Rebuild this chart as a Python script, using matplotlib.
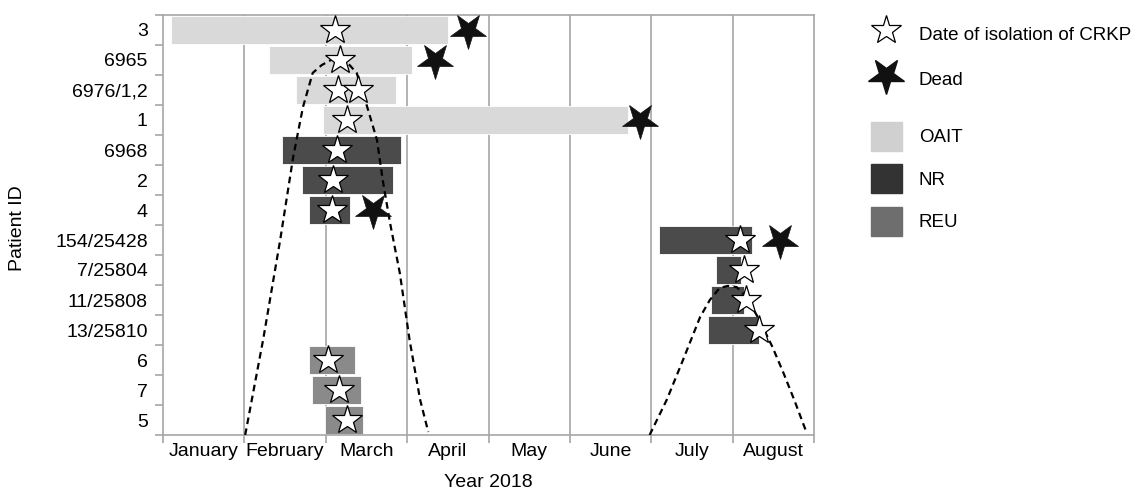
import matplotlib
matplotlib.use('Agg')
import matplotlib.pyplot as plt
from matplotlib.lines import Line2D
from matplotlib.patches import Patch
from matplotlib.markers import MarkerStyle
from matplotlib.transforms import Affine2D

# months counted from 1 January 2018
patients = ['3', '6965', '6976/1,2', '1', '6968', '2', '4', '154/25428',
            '7/25804', '11/25808', '13/25810', '6', '7', '5']
ward = ['OAIT', 'OAIT', 'OAIT', 'OAIT', 'NR', 'NR', 'NR', 'NR',
        'NR', 'NR', 'NR', 'REU', 'REU', 'REU']
stay_start = [0.10, 1.30, 1.63, 1.97, 1.46, 1.71, 1.79, 6.09,
              6.80, 6.73, 6.70, 1.79, 1.83, 1.99]
stay_end = [3.50, 3.06, 2.86, 5.71, 2.92, 2.83, 2.30, 7.24,
            7.10, 7.14, 7.33, 2.36, 2.43, 2.46]
isolation = [[2.11], [2.17], [2.15, 2.40], [2.26], [2.14], [2.09], [2.08], [7.09],
             [7.14], [7.17], [7.33], [2.03], [2.16], [2.26]]
death = [3.75, 3.34, None, 5.86, None, None, 2.58, 7.58,
         None, None, None, None, None, None]

months = ['January', 'February', 'March', 'April', 'May', 'June', 'July', 'August']

# epidemic curves (x in months, y in patient rows from the top)
wave1_x = [1.01, 1.23, 1.44, 1.60, 1.72, 1.84, 1.95, 2.11, 2.27, 2.38, 2.51,
           2.63, 2.70, 2.79, 2.91, 3.03, 3.16, 3.26]
wave1_y = [14.0, 10.83, 7.5, 4.73, 3.07, 1.93, 1.67, 1.43, 1.6, 1.93, 3.07,
           4.17, 5.5, 6.93, 8.6, 10.83, 12.83, 13.9]
wave2_x = [5.98, 6.19, 6.39, 6.60, 6.72, 6.84, 6.94, 7.05, 7.17, 7.33, 7.49,
           7.62, 7.76, 7.91]
wave2_y = [14.0, 12.83, 11.5, 10.07, 9.5, 9.1, 9.03, 9.07, 9.4, 10.17, 11.07,
           11.9, 12.85, 13.93]

bar_colors = {'OAIT': '#d9d9d9', 'NR': '#4b4b4b', 'REU': '#8a8a8a'}
key_colors = {'OAIT': '#d0d0d0', 'NR': '#333333', 'REU': '#6e6e6e'}
grid_gray = '#a6a6a6'

plt.rcParams['font.family'] = ['Liberation Sans', 'DejaVu Sans']
plt.rcParams['font.size'] = 14

fig = plt.figure(figsize=(11.46, 4.94), dpi=100)
ax = fig.add_axes([163 / 1146, 59 / 494, 651 / 1146, 420 / 494])

rows = [i + 0.5 for i in range(len(patients))]

for m in range(1, len(months)):
    ax.axvline(m, color=grid_gray, lw=1.2, zorder=0)

ax.barh(rows, [e - s for s, e in zip(stay_start, stay_end)], left=stay_start,
        height=0.94, color=[bar_colors[w] for w in ward],
        edgecolor='white', linewidth=0.6, zorder=2)

ax.plot(wave1_x, wave1_y, color='black', lw=1.6, ls=(0, (3, 2)), zorder=3)
ax.plot(wave2_x, wave2_y, color='black', lw=1.6, ls=(0, (3, 2)), zorder=3)

iso_x, iso_y = [], []
for r, dates in zip(rows, isolation):
    for d in dates:
        iso_x.append(d)
        iso_y.append(r)
ax.plot(iso_x, iso_y, ls='none', marker='*', ms=22, mfc='white', mec='black',
        mew=0.9, zorder=4)

dead_marker = MarkerStyle('*', transform=Affine2D().rotate_deg(180))
dead_x = [d for d in death if d is not None]
dead_y = [r for r, d in zip(rows, death) if d is not None]
ax.plot(dead_x, dead_y, ls='none', marker=dead_marker, ms=27, mfc='#111111',
        mec='#111111', mew=0.5, zorder=5, clip_on=False)

ax.set_xlim(0, len(months))
ax.set_ylim(len(patients), 0)

ax.set_xticks(range(len(months) + 1))
ax.set_xticklabels([])
ax.set_xticks([m + 0.5 for m in range(len(months))], minor=True)
ax.set_xticklabels(months, minor=True)
ax.set_yticks(range(len(patients) + 1))
ax.set_yticklabels([])
ax.set_yticks(rows, minor=True)
ax.set_yticklabels(patients, minor=True)

ax.tick_params(which='major', length=6, width=1.2, color=grid_gray)
ax.tick_params(which='minor', length=0)
ax.tick_params(axis='x', which='minor', pad=6)
ax.tick_params(axis='y', which='minor', pad=11)

for sp in ax.spines.values():
    sp.set_color(grid_gray)
    sp.set_linewidth(1.2)

fig.text(18 / 1146, 1 - 228 / 494, 'Patient ID', rotation=90,
         ha='center', va='center')
fig.text(488 / 1146, 1 - 482 / 494, 'Year 2018', ha='center', va='center')

# key: marker symbols on top, ward colours below
legend_kw = dict(loc='upper left', fontsize=13.5, frameon=False, borderpad=0,
                 borderaxespad=0, handlelength=1.65, handleheight=2.0,
                 handletextpad=0.9)
marker_handles = [
    Line2D([], [], ls='none', marker='*', ms=22, mfc='white', mec='black', mew=0.9),
    Line2D([], [], ls='none', marker=dead_marker, ms=27, mfc='#111111', mec='#111111'),
]
fig.legend(marker_handles, ['Date of isolation of CRKP', 'Dead'],
           bbox_to_anchor=(871 / 1146, 1 - 20 / 494), labelspacing=0.82,
           **legend_kw)
ward_names = ['OAIT', 'NR', 'REU']
fig.legend([Patch(color=key_colors[w]) for w in ward_names], ward_names,
           bbox_to_anchor=(871 / 1146, 1 - 122 / 494), labelspacing=0.71,
           **legend_kw)

fig.savefig('out.png', dpi=100)
